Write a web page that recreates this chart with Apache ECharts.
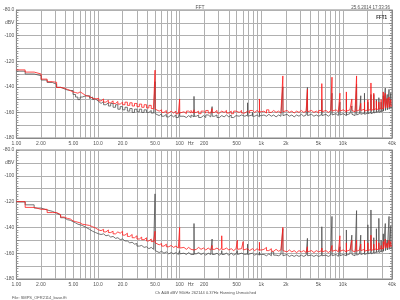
<!DOCTYPE html>
<html>
<head>
<meta charset="utf-8">
<script src="https://cdn.jsdelivr.net/npm/echarts@6/dist/echarts.min.js"></script>
<style>
  html, body { margin: 0; padding: 0; background: #fff; }
  #main { width: 400px; height: 300px; }
</style>
</head>
<body>
<div id="main"></div>
<script>
// frequency points in Hz (shared by all four traces)
const freq = [
  1.0, 1.28, 1.65, 2.01, 2.38, 2.75, 3.11, 3.48, 3.84, 4.21, 4.58, 4.94, 5.31, 5.67, 6.04, 6.41, 6.77, 7.14, 7.5, 7.87, 8.24, 8.6, 8.97, 9.33, 9.7,
  10.2, 10.9, 11.7, 12.5, 13.4, 14.3, 15.3, 16.4, 17.5, 18.7, 20.0, 21.4, 22.9, 24.5, 26.2, 28.0, 30.0, 32.1, 34.3, 36.7, 39.3, 42.0, 44.9, 48.0, 50.0, 50.2, 52.5, 56.2, 60.1, 64.3, 68.8, 73.6, 78.7, 84.2, 90.1, 96.4, 100, 100.4,
  106, 113, 121, 129, 138, 146, 150, 150.6, 160, 171, 183, 196, 209, 224, 240, 250, 251, 268, 287, 307, 328, 329.3, 351, 375, 401, 429, 459, 491, 510, 512, 537, 574, 600, 602.4, 630, 680, 682.7, 720, 780, 783, 830, 890, 950, 953.8,
  1010, 1080, 1160, 1240, 1330, 1420, 1520, 1630, 1740, 1840, 1847, 1930, 2070, 2210, 2370, 2530, 2710, 2900, 3100, 3320, 3550, 3680, 3695, 3860, 4130, 4420, 4730, 5060, 5520, 5542, 5800, 6210, 6640, 7100, 7360, 7390, 7700, 8240, 8800, 9200, 9237, 9650,
  10100, 10500, 11040, 11084, 11600, 12200, 12880, 12932, 13500, 14100, 14720, 14779, 15400, 16000, 16560, 16626, 17300, 18400, 18474, 19300, 20240, 20321, 21200, 22080, 22168, 23000, 23920, 24016, 24800, 25760, 25863, 26700, 27600, 27710, 28500, 29440, 29558, 30400, 31280, 31405, 32200, 33120, 33252, 34000, 34960, 35100, 35900, 36800, 36947, 37700, 38640, 38795, 39400, 40000
];

// upper panel, dBV
const topRed = [
  -126.8, -128.5, -130, -134, -136, -136.5, -140.5, -141, -142, -143, -144, -144.5, -145, -144, -145, -146.5, -147, -146.5, -147.5, -148, -149, -148.5, -149.5, -150, -149,
  -151, -149.5, -152, -150.5, -152.5, -151, -153, -151.5, -153.5, -152, -154, -152, -154.5, -152.5, -155, -153, -155.5, -153.5, -156, -154, -156.5, -154.5, -157, -155, -127, -157.5, -159, -158, -160, -158.5, -160.5, -159, -160.5, -159, -161, -159.5, -149.5, -160.5,
  -159.5, -161, -159, -160.5, -158.5, -160.5, -158, -160, -159, -161, -159, -160.5, -158.5, -160.5, -159, -157, -160, -158.5, -160.5, -159, -158, -160, -158.5, -160.5, -159, -161, -159, -160.5, -158.5, -160, -158.5, -160.5, -159, -160.5, -159, -158, -160.5, -158.5, -157.5, -160, -158.5, -160, -149.5, -159.5,
  -159, -160.5, -158, -160, -158.5, -160, -159, -160.5, -159, -131.5, -159.5, -158.5, -160, -159, -160.5, -159, -160, -158.5, -160, -159, -160.5, -142, -159.5, -158.5, -160, -159, -160.5, -158.5, -137.5, -159.5, -158.5, -160, -158.5, -160, -132.5, -159, -158, -159.5, -158.5, -145, -159, -158,
  -158.5, -159.5, -144, -159, -158, -159.5, -149.5, -158.5, -159.5, -158, -131.5, -159, -158, -159.5, -153, -158.5, -157.5, -152, -159, -158, -150, -158.5, -157.5, -137, -158.5, -157.5, -145, -158, -157, -151, -158, -157, -152, -157.5, -156.5, -150, -157.5, -156.5, -144, -157, -156, -145, -156.5, -155.5, -149, -156.5, -155, -148, -156, -155, -150, -155.5, -154.5, -155
];
const topGray = [
  -127.8, -130, -131.3, -134.7, -136.6, -138, -140.4, -141.5, -142.5, -142.8, -143, -146, -148, -150, -148, -147.5, -147, -148.5, -147, -149, -148, -150, -149.5, -151, -151.5,
  -153, -151.5, -154, -152.5, -155, -153, -156, -154, -157.5, -155.5, -158, -156, -159, -157, -160, -157.5, -159.5, -157.5, -160, -158, -160, -158.5, -160.5, -159, -136, -161, -162.5, -161, -163, -161.5, -163.5, -162, -163.5, -162, -164, -162.5, -160, -163,
  -163, -164, -162.5, -164, -162, -163.5, -147.5, -163, -162, -164, -162.5, -164, -162, -163.5, -162.5, -155.5, -163, -162, -164, -162.5, -161, -163.5, -162, -163.5, -162, -164, -162.5, -163.5, -161.5, -163, -162, -163.5, -161, -163, -162, -152.5, -163, -162, -160, -163, -162, -163.5, -160, -162.5,
  -162, -163, -161.5, -163, -162, -163.5, -162, -163, -162, -140, -162.5, -161.5, -163, -162, -163.5, -162, -163, -161.5, -163, -162, -163, -140.5, -162.5, -161.5, -163, -162, -163, -161.5, -150, -162.5, -161.5, -163, -161.5, -163, -145, -162, -161, -162.5, -161.5, -152, -162, -161,
  -161.5, -162.5, -150, -162, -161, -162.5, -155, -161.5, -162.5, -161, -138, -162, -161, -162.5, -147, -161.5, -160.5, -145, -161.5, -160.5, -152, -161, -160, -146, -161, -160, -146, -160.5, -159.5, -150, -160, -159, -148.5, -160, -159, -152, -159.5, -158.5, -147, -159, -158, -141, -158.5, -157.5, -146, -158, -157, -142, -157.5, -156.5, -145, -157, -156, -156
];

// lower panel, dBV
const botRed = [
  -120, -124.5, -126, -126, -128.5, -128.5, -130, -132, -133, -133.5, -135, -135.5, -136, -136.5, -137.5, -137, -138, -139, -138.5, -140, -139.5, -141, -140.5, -141.5, -142,
  -142.5, -141.5, -143.5, -142, -144, -143, -145, -143.5, -144.5, -143, -146, -144.5, -147, -145.5, -148, -146.5, -149, -147.5, -149.5, -148, -150.5, -149, -151, -149.5, -143, -152, -153.5, -152.5, -154.5, -153, -155, -154, -155.5, -154.5, -156, -155, -140, -156,
  -155.5, -157, -155.5, -157, -156, -157.5, -156, -157, -155.5, -157, -156, -157.5, -156, -157.5, -156, -154, -157, -156, -157.5, -156, -146.5, -157, -156, -157.5, -156.5, -158, -156.5, -158, -150, -157, -156.5, -158, -151, -157.5, -156.5, -155, -158, -156.5, -155, -158, -156.5, -158, -151.5, -157.5,
  -157, -155.5, -158, -156.5, -158.5, -157, -158.5, -157.5, -159, -140, -158, -159, -157.5, -159, -158, -159.5, -158, -159, -158, -159.5, -158, -155, -159, -158, -159.5, -158, -159, -158, -156, -159, -158, -159.5, -158, -159, -154, -158.5, -157.5, -159, -158, -146.5, -158.5, -157.5,
  -158, -159, -152, -158.5, -157.5, -159, -150, -158, -159, -157.5, -150, -158.5, -157.5, -159, -153, -158, -157, -150, -158.5, -157.5, -152, -158, -157, -146, -158, -157, -153, -157.5, -156.5, -150, -157.5, -156.5, -152, -157, -156, -154, -157, -156, -151, -156.5, -155.5, -149, -156, -155, -152, -156, -155, -150, -155.5, -154.5, -151, -155, -154, -154.5
];
const botGray = [
  -120.3, -122.5, -125, -126.5, -127.5, -129, -130.5, -132.5, -134, -134.5, -135.5, -136.5, -137.5, -138, -138.5, -139.5, -140, -140.5, -141.5, -142, -143, -143.5, -144, -144.5, -145,
  -145.5, -145, -146.5, -146, -147.5, -147, -148.5, -148, -149.5, -149, -150.5, -150.5, -152, -151.5, -153, -152.5, -154.5, -154, -155.5, -155, -156.5, -155.5, -157, -156.5, -114, -158, -159.5, -158.5, -160, -159, -160.5, -159.5, -160.5, -159.5, -161, -160, -158, -160.5,
  -160, -161, -159.5, -161, -160, -161, -137, -160.5, -159.5, -161, -160, -161.5, -160, -161, -160, -149, -161, -160, -161.5, -160, -158, -161, -160, -161.5, -160, -161.5, -160.5, -161.5, -158, -161, -160, -161.5, -158.5, -161, -160.5, -153, -161, -160, -158.5, -161.5, -160.5, -161.5, -159, -161,
  -161, -162, -160.5, -162, -159, -161.5, -162, -161, -162, -141, -162, -161, -162.5, -161.5, -162.5, -161.5, -162.5, -161.5, -162.5, -161.5, -162.5, -148.5, -162, -161.5, -162.5, -161.5, -162.5, -161.5, -139.5, -162, -161.5, -162.5, -161.5, -162.5, -131.5, -162, -161, -162.5, -161.5, -155, -162, -161,
  -161, -162, -142, -161.5, -160.5, -162, -146, -161, -162, -160.5, -127, -161.5, -160.5, -161.5, -146, -161, -160, -150, -161, -160, -138, -160.5, -159.5, -126.5, -160.5, -159.5, -148, -160, -159, -141, -159.5, -158.5, -133, -159.5, -158.5, -150, -159, -158, -145, -158.5, -157.5, -137, -158, -157, -150, -157.5, -156.5, -131.5, -157, -156, -139, -156.5, -155.5, -156
];

// axis ticks and labels
const tickFreqs = [1, 2, 5, 10, 20, 50, 100, 137, 200, 500, 1000, 2000, 5000, 10000, 40000];
const tickLabels = ['1.00', '2.00', '5.00', '10.0', '20.0', '50.0', '100', 'Hz', '200', '500', '1k', '2k', '5k', '10k', '40k'];
const gridFreqs = [
  1, 2, 3, 4, 5, 6, 7, 8, 9,
  10, 20, 30, 40, 50, 60, 70, 80, 90,
  100, 200, 300, 400, 500, 600, 700, 800, 900,
  1000, 2000, 3000, 4000, 5000, 6000, 7000, 8000, 9000,
  10000, 20000, 30000, 40000
];
const levelTicks = [-80, -90, -100, -120, -140, -160, -180];
const levelLabels = ['-80.0', 'dBV', '-100', '-120', '-140', '-160', '-180'];

const FONT = 'Liberation Sans';

const main = document.getElementById('main');
let myChart = echarts.init(main);

const pairs = (vals) => freq.map((f, i) => [f, vals[i]]);

function freqLabel(value) {
  const i = tickFreqs.findIndex((f) => Math.abs(f - value) < f * 1e-6);
  return i < 0 ? '' : tickLabels[i];
}

function levelLabel(value) {
  const i = levelTicks.indexOf(Math.round(value));
  return i < 0 ? '' : levelLabels[i];
}

function xAxisFor(gridIndex) {
  return {
    type: 'log',
    gridIndex: gridIndex,
    min: 1,
    max: 40000,
    axisLine: { lineStyle: { color: '#888', width: 1 } },
    axisTick: { show: false, customValues: gridFreqs },
    splitLine: { show: true, lineStyle: { color: '#b0b0b0', width: 1 } },
    axisLabel: {
      customValues: tickFreqs,
      formatter: freqLabel,
      fontSize: 5,
      fontFamily: FONT,
      color: '#555',
      margin: 3,
    },
  };
}

function yAxisFor(gridIndex, side) {
  const left = side === 'left';
  return {
    type: 'value',
    gridIndex: gridIndex,
    position: side,
    min: -180,
    max: -80,
    interval: 10,
    axisLine: { show: true, lineStyle: { color: '#888' } },
    axisTick: { show: true, inside: true, length: 3, lineStyle: { color: '#888' } },
    minorTick: { show: true, splitNumber: 5, length: 2, lineStyle: { color: '#999' } },
    splitLine: { show: left, lineStyle: { color: '#b0b0b0', width: 1 } },
    axisLabel: {
      show: left,
      formatter: levelLabel,
      fontSize: 5,
      fontFamily: FONT,
      color: '#555',
      margin: 2,
    },
  };
}

function trace(vals, axisIndex, color) {
  return {
    type: 'line',
    xAxisIndex: axisIndex,
    yAxisIndex: axisIndex * 2,
    data: pairs(vals),
    step: 'end',
    symbol: 'none',
    silent: true,
    lineStyle: { color: color, width: 0.8 },
  };
}

const smallText = (size, extra) => Object.assign({ fontSize: size, fontFamily: FONT, fontWeight: 'normal', color: '#555' }, extra || {});

const option = {
  animation: false,
  backgroundColor: '#fff',
  title: [
    { text: 'FFT', left: 'center', top: 0, textStyle: smallText(5) },
    { text: '25.6.2014 17:33:36', right: 5, top: 0, textStyle: smallText(4.5) },
    { text: 'FFT1', right: 8, top: 10, textStyle: smallText(4.5, { fontWeight: 'bold', color: '#222' }) },
    { text: 'Ch A&B dBV 96kHz 262144 0.37Hz Hanning Unmatched', left: 150, top: 286, textStyle: smallText(4) },
    { text: 'File: SMPS_OFR2114_base.fft', left: 7, top: 291, textStyle: smallText(4) },
  ],
  grid: [
    { left: 15, right: 8, top: 10, height: 128, show: true, borderColor: '#888', borderWidth: 1 },
    { left: 15, right: 8, top: 150, height: 129, show: true, borderColor: '#888', borderWidth: 1 },
  ],
  xAxis: [xAxisFor(0), xAxisFor(1)],
  yAxis: [yAxisFor(0, 'left'), yAxisFor(0, 'right'), yAxisFor(1, 'left'), yAxisFor(1, 'right')],
  series: [
    trace(topGray, 0, '#505050'),
    trace(topRed, 0, '#ff1a1a'),
    trace(botGray, 1, '#505050'),
    trace(botRed, 1, '#ff1a1a'),
  ],
};

myChart.setOption(option);
</script>
</body>
</html>
